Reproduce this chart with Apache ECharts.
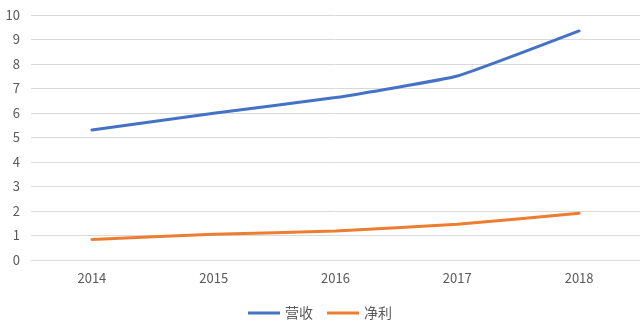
<!DOCTYPE html>
<html><head><meta charset="utf-8">
<script src="https://cdn.jsdelivr.net/npm/echarts@6/dist/echarts.min.js"></script>
<style>html,body{margin:0;padding:0;background:#fff}#c{width:640px;height:331px}</style>
</head><body><div id="c"></div>
<script>
const categories = ['2014','2015','2016','2017','2018'];
const revenue = [5.31, 5.99, 6.63, 7.51, 9.35];
const profit = [0.84, 1.05, 1.18, 1.46, 1.91];
const seriesNames = ['营收','净利'];
const chart = echarts.init(document.getElementById('c'));
const font = '"Noto Sans CJK SC","Noto Sans",sans-serif';
chart.setOption({
  animation:false,
  textStyle:{fontFamily:font},
  grid:{left:31,top:15,width:614,height:245},
  legend:{bottom:6,left:'center',itemWidth:32,itemHeight:3,itemGap:14,icon:'rect',
    textStyle:{color:'#595959',fontSize:14,fontFamily:font},data:seriesNames},
  xAxis:{type:'category',data:categories,boundaryGap:true,
    axisLine:{show:true,lineStyle:{color:'#d9d9d9'}},axisTick:{show:false},
    axisLabel:{color:'#595959',fontSize:13,margin:12}},
  yAxis:{type:'value',min:0,max:10,interval:1,
    axisLine:{show:false},axisTick:{show:false},
    splitLine:{lineStyle:{color:'#d9d9d9'}},
    axisLabel:{color:'#595959',fontSize:13,margin:11}},
  series:[
    {name:seriesNames[0],type:'line',data:revenue,smooth:0.12,showSymbol:false,symbol:'none',
     lineStyle:{color:'#4472C4',width:3,cap:'round'},itemStyle:{color:'#4472C4'}},
    {name:seriesNames[1],type:'line',data:profit,smooth:0.12,showSymbol:false,symbol:'none',
     lineStyle:{color:'#ED7D31',width:3,cap:'round'},itemStyle:{color:'#ED7D31'}}
  ]
});
</script></body></html>
